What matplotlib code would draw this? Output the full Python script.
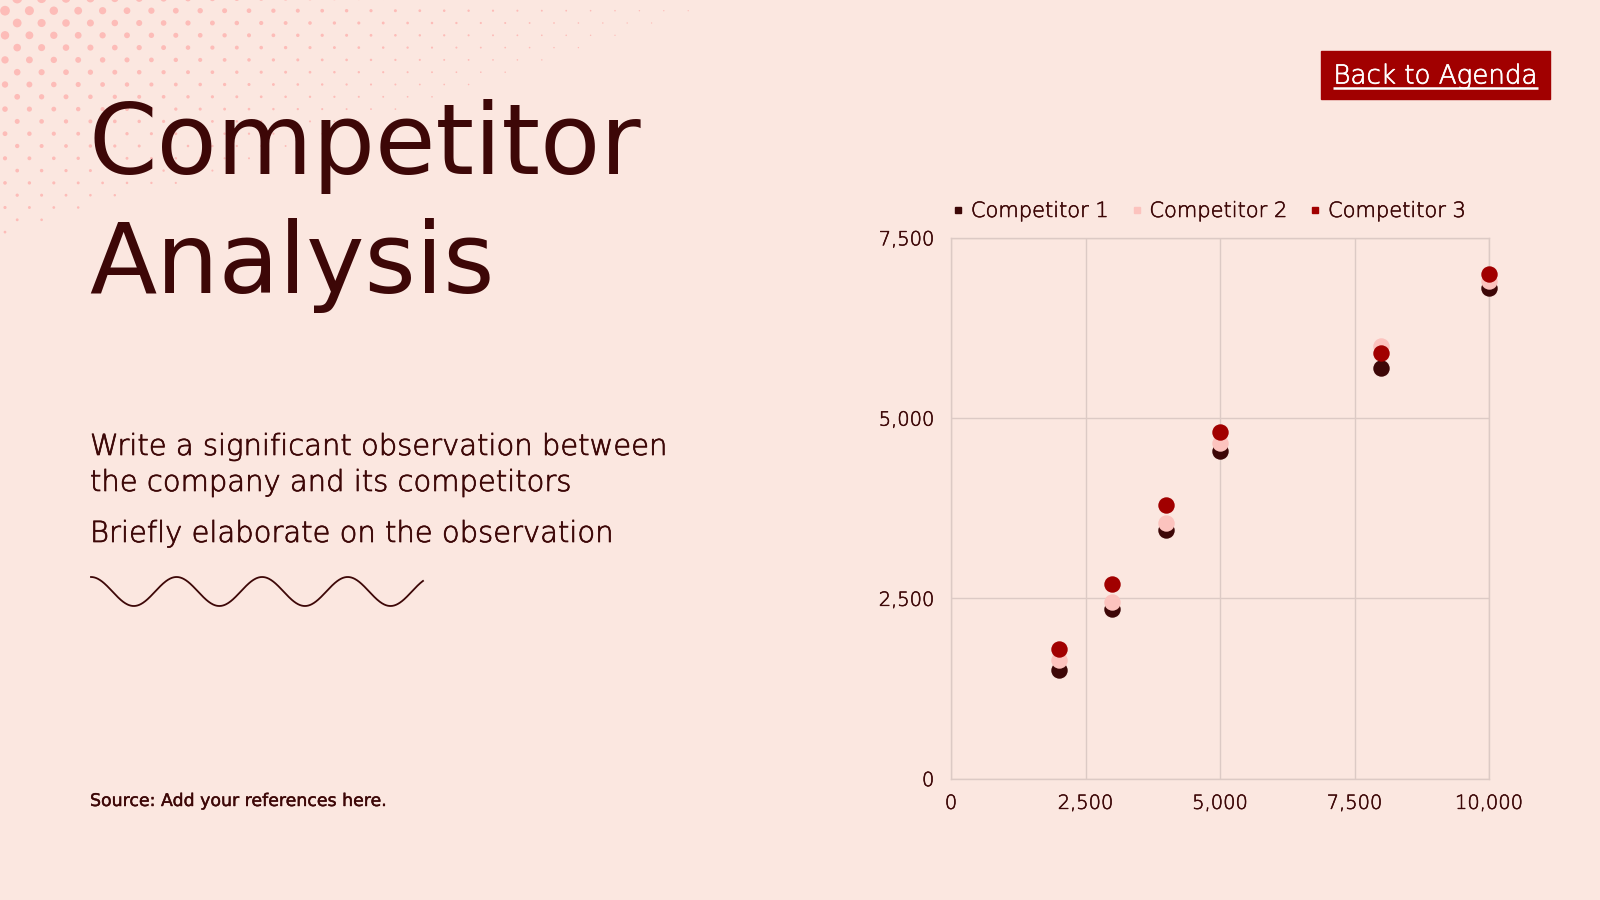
import numpy as np
import matplotlib
matplotlib.use("Agg")
import matplotlib.pyplot as plt
import matplotlib.patheffects as pe
from matplotlib.lines import Line2D
from matplotlib.ticker import FuncFormatter

# ---------------- data ----------------
x_vals = [2000, 3000, 4000, 5000, 8000, 10000]
competitor_1 = [1500, 2350, 3450, 4550, 5700, 6800]
competitor_2 = [1650, 2450, 3550, 4650, 6000, 6900]
competitor_3 = [1800, 2700, 3800, 4800, 5900, 7000]
series_names = ["Competitor 1", "Competitor 2", "Competitor 3"]
x_ticks = [0, 2500, 5000, 7500, 10000]
y_ticks = [0, 2500, 5000, 7500]

title_lines = ["Competitor", "Analysis"]
body_lines = ["Write a significant observation between",
              "the company and its competitors"]
body_line2 = "Briefly elaborate on the observation"
source_text = "Source: Add your references here."
button_text = "Back to Agenda"

# ---------------- style ----------------
BG = "#fbe7e0"
DARK = "#3d0707"
PINK = "#fcc3be"
RED = "#a10000"
GRID = "#dccac5"
DOT = "#fdbcb8"
colors = [DARK, PINK, RED]
LIGHT_W = 250

def thick(c, w=0.45):
    return [pe.withStroke(linewidth=w, foreground=c)]

W, H = 1600, 900
fig = plt.figure(figsize=(16, 9), dpi=100, facecolor=BG)

bg = fig.add_axes([0, 0, 1, 1], zorder=0)
bg.set_xlim(0, W)
bg.set_ylim(H, 0)
bg.axis("off")
bg.set_facecolor(BG)

# halftone dots (decoration)
dx, dy = 24.4, 12.3
pts_x, pts_y, pts_s = [], [], []
for j in range(0, 30):
    yy = 10.7 - dy + j * dy
    for i in range(0, 40):
        xx = 5 + i * dx + (dx / 2 if j % 2 == 0 else 0)
        if xx / 740 + yy / 240 >= 1:
            continue
        d = 10.5 * np.exp(-(xx / 330 + yy / 175))
        if d < 0.8:
            continue
        pts_x.append(xx); pts_y.append(yy); pts_s.append((d * 0.72) ** 2)
bg.scatter(pts_x, pts_y, s=pts_s, color=DOT, linewidths=0, zorder=1)

# title
title_font = ["DejaVu Sans"]
bg.text(89, 174, title_lines[0], fontsize=70.8, family=title_font, color=DARK, va="baseline", ha="left", zorder=3)
bg.text(89, 293, title_lines[1], fontsize=70.8, family=title_font, color=DARK, va="baseline", ha="left", zorder=3)

# body text
body_font = ["DejaVu Sans"]
for txt, yb in [(body_lines[0], 455), (body_lines[1], 491), (body_line2, 542)]:
    bg.text(90, yb, txt, fontsize=20.9, family=body_font, weight=LIGHT_W, color=DARK,
            va="baseline", zorder=3, path_effects=thick(DARK, 0.5))

# wave (decoration)
wx = np.linspace(91, 423, 600)
period = (423 - 91) / 3.88
wy = 591.5 - 14.5 * np.cos(2 * np.pi * (wx - 91) / period)
bg.plot(wx, wy, color=DARK, lw=1.3, zorder=3)

# source
bg.text(90, 806, source_text, fontsize=12.5, family=body_font, color=DARK, va="baseline", zorder=3,
        path_effects=thick(DARK, 0.3))

# button
bg.add_patch(plt.Rectangle((1321, 51), 229, 47.5, color=RED, zorder=2))
bt = bg.text(1435.5, 83.5, button_text, fontsize=18.8, family=body_font, weight=LIGHT_W, color="white",
             va="baseline", ha="center", zorder=3, path_effects=thick("white", 0.5))
fig.canvas.draw()
r = fig.canvas.get_renderer()
bb = bt.get_window_extent(r)
bg.plot([bb.x0, bb.x1], [87.5, 87.5], color="white", lw=1.8, zorder=3, solid_capstyle="butt")

# ---------------- chart ----------------
ax = fig.add_axes([951 / W, 1 - 778.6 / H, (1489 - 951) / W, (778.6 - 237.8) / H], zorder=2)
ax.set_facecolor("none")
for xs, ys, c in zip([x_vals] * 3, [competitor_1, competitor_2, competitor_3], colors):
    ax.scatter(xs, ys, s=140, color=c, linewidths=0, zorder=3, clip_on=False)
ax.set_xlim(0, 10000)
ax.set_ylim(0, 7500)
ax.set_xticks(x_ticks)
ax.set_yticks(y_ticks)
fmt = FuncFormatter(lambda v, p: f"{int(v):,}")
ax.xaxis.set_major_formatter(fmt)
ax.yaxis.set_major_formatter(fmt)
ax.grid(True, color=GRID, lw=1)
ax.set_axisbelow(True)
for s in ax.spines.values():
    s.set_color(GRID)
    s.set_linewidth(1)
ax.tick_params(length=0, labelsize=14, labelcolor=DARK)
ax.tick_params(axis="y", pad=12)
ax.tick_params(axis="x", pad=11)
for lab in ax.get_xticklabels() + ax.get_yticklabels():
    lab.set_family(body_font)
    lab.set_fontweight(LIGHT_W)
    lab.set_path_effects(thick(DARK, 0.4))

handles = [Line2D([], [], marker="s", ls="none", markersize=5, color=c) for c in colors]
leg = ax.legend(handles, series_names, ncol=3, loc="center left",
                bbox_to_anchor=(952 / W, 1 - 211 / H), bbox_transform=fig.transFigure,
                frameon=False, handlelength=0.6, handletextpad=0.3, columnspacing=1.05,
                borderpad=0, borderaxespad=0, prop={"family": body_font, "size": 15.1, "weight": LIGHT_W})
for t in leg.get_texts():
    t.set_color(DARK)
    t.set_path_effects(thick(DARK, 0.4))

fig.savefig("out.png", dpi=100, facecolor=BG)
